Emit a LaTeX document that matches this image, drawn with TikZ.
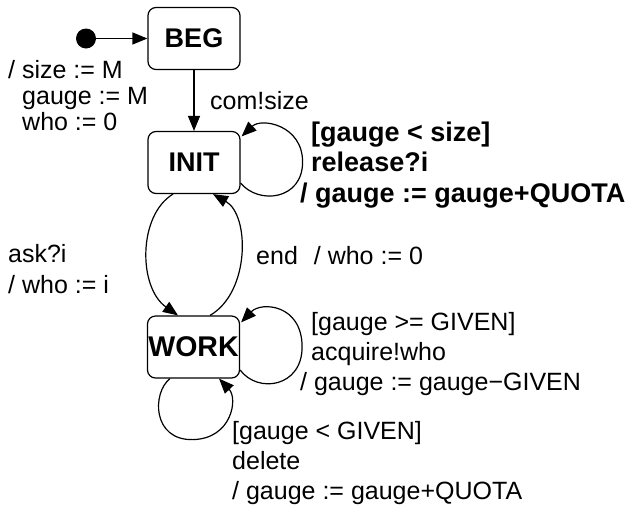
\documentclass[tikz,border=0pt]{standalone}
\usepackage{fontspec}
\setmainfont{Liberation Sans}
\usetikzlibrary{arrows.meta}

\tikzset{
  state/.style={draw, line width=1.2pt, rounded corners=8pt,
    minimum width=92pt, minimum height=62pt, inner sep=0pt,
    font=\fontsize{27}{30}\selectfont\bfseries},
  edge/.style={line width=1.2pt, -{Triangle[length=15pt,width=12pt]}},
  % multi-line labels are placed by the baseline of their last line
  lbl/.style={inner sep=0pt, anchor=base west, align=left,
    font=\fontsize{25}{30}\selectfont},
  boldlbl/.style={lbl, font=\fontsize{27}{30.5}\selectfont\bfseries},
}

\begin{document}
\begin{tikzpicture}[x=1pt, y=-1pt]
  \useasboundingbox (0,0) rectangle (639,504);

  % states
  \node[state] (beg)  at (194,38.5) {BEG};
  \node[state] (init) at (194,162.5) {INIT};
  \node[state, font=\fontsize{28.5}{30}\selectfont\bfseries] (work) at (193.5,347) {WORK};

  % initial pseudo-state
  \node[circle, fill, inner sep=0pt, minimum size=20pt] (start) at (86,38.5) {};

  % transitions
  \draw[edge] (start) -- (beg);
  \draw[edge] (beg) -- (init);

  \draw[edge] ([xshift=-21pt]init.south)
    .. controls +(-35,21) and +(-40,-28) .. ([xshift=-15.5pt]work.north);
  \draw[edge] ([xshift=16.5pt]work.north)
    .. controls +(40,-23) and +(37,21) .. ([xshift=19pt]init.south);

  % self loops
  \draw[edge] ([yshift=-20.5pt]init.east)
    .. controls +(18,22) and +(0,38) .. ++(62,-21)
    .. controls +(0,-37) and +(20,-19) .. ([xshift=1pt,yshift=-5.5pt]init.north east);
  \draw[edge] ([yshift=-23pt]work.east)
    .. controls +(18,24) and +(0,40) .. ++(62,-23)
    .. controls +(0,-43) and +(20,-21) .. ([xshift=1pt,yshift=-7pt]work.north east);
  \draw[edge] ([xshift=-23.5pt]work.south)
    .. controls +(-18,14) and +(-41,1) .. ++(23,61)
    .. controls +(39,-1) and +(19,20) .. ([xshift=25.5pt]work.south);

  % transition labels
  \node[lbl, font=\fontsize{25}{26}\selectfont] (initact) at (8,130)
    {/ size := M\\\hspace*{14pt}gauge := M\\\hspace*{14pt}who := 0};
  \node[lbl] (comlbl) at (210,109) {com!size};
  \node[boldlbl] (releaselbl) at (300,202)
    {\hspace*{11pt}[gauge < size]\\\hspace*{11pt}release?i\\/ gauge := gauge+QUOTA};
  \node[lbl, font=\fontsize{25}{31}\selectfont] (asklbl) at (8,293) {ask?i\\/ who := i};
  \node[lbl] (endlbl) at (256,264) {end\hspace{16pt}/ who := 0};
  \node[lbl] (acquirelbl) at (300,390)
    {\hspace*{11pt}[gauge >= GIVEN]\\\hspace*{11pt}acquire!who\\/ gauge := gauge−GIVEN};
  \node[lbl] (deletelbl) at (232,499)
    {[gauge < GIVEN]\\delete\\/ gauge := gauge+QUOTA};
\end{tikzpicture}
\end{document}
